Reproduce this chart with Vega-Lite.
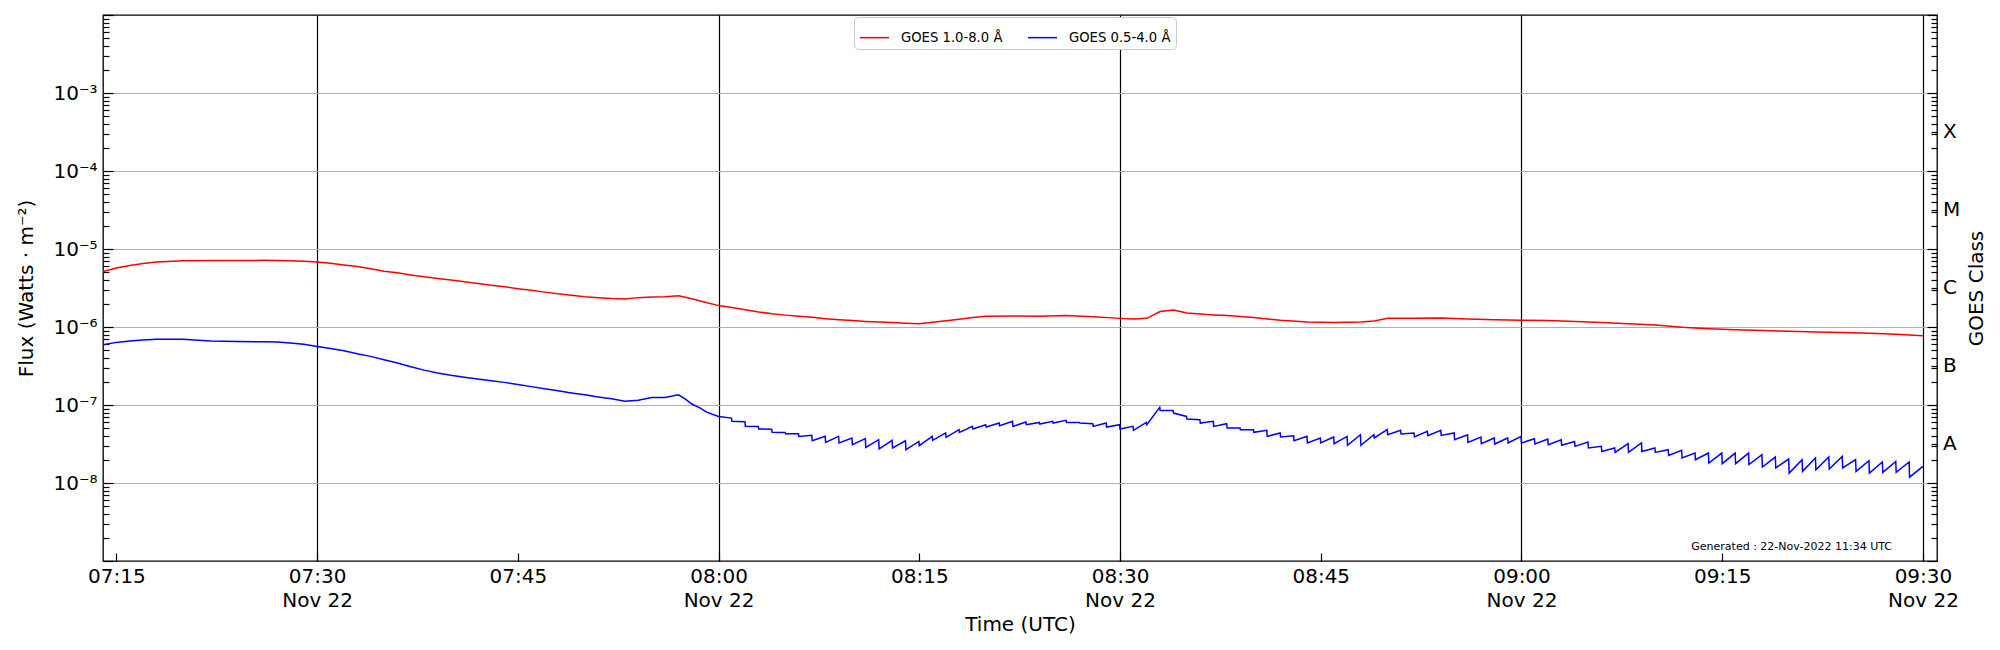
{
  "$schema": "https://vega.github.io/schema/vega-lite/v6.json",
  "width": 1834,
  "height": 546,
  "autosize": {"type": "none"},
  "padding": {"left": 103, "top": 15, "right": 63, "bottom": 89},
  "background": "white",
  "config": {
    "font": "DejaVu Sans",
    "view": {"stroke": "black", "strokeWidth": 1.3},
    "axis": {
      "labelFont": "DejaVu Sans",
      "titleFont": "DejaVu Sans",
      "labelColor": "black",
      "titleColor": "black",
      "titleFontWeight": "normal",
      "labelFontSize": 20,
      "titleFontSize": 20,
      "domain": false,
      "tickColor": "black",
      "tickWidth": 1.2
    }
  },
  "encoding": {
    "x": {
      "field": "t",
      "type": "temporal",
      "scale": {
        "type": "utc",
        "domain": [
          {"year": 2022, "month": 11, "date": 22, "hours": 7, "minutes": 14, "seconds": 0, "utc": true},
          {"year": 2022, "month": 11, "date": 22, "hours": 9, "minutes": 31, "seconds": 3, "utc": true}
        ]
      },
      "axis": {
        "title": "Time (UTC)",
        "values": [
          {"year": 2022, "month": 11, "date": 22, "hours": 7, "minutes": 15, "utc": true},
          {"year": 2022, "month": 11, "date": 22, "hours": 7, "minutes": 30, "utc": true},
          {"year": 2022, "month": 11, "date": 22, "hours": 7, "minutes": 45, "utc": true},
          {"year": 2022, "month": 11, "date": 22, "hours": 8, "minutes": 0, "utc": true},
          {"year": 2022, "month": 11, "date": 22, "hours": 8, "minutes": 15, "utc": true},
          {"year": 2022, "month": 11, "date": 22, "hours": 8, "minutes": 30, "utc": true},
          {"year": 2022, "month": 11, "date": 22, "hours": 8, "minutes": 45, "utc": true},
          {"year": 2022, "month": 11, "date": 22, "hours": 9, "minutes": 0, "utc": true},
          {"year": 2022, "month": 11, "date": 22, "hours": 9, "minutes": 15, "utc": true},
          {"year": 2022, "month": 11, "date": 22, "hours": 9, "minutes": 30, "utc": true}
        ],
        "labelExpr": "utcminutes(datum.value) % 30 == 0 ? [utcFormat(datum.value, '%H:%M'), utcFormat(datum.value, '%b %d')] : utcFormat(datum.value, '%H:%M')",
        "tickSize": -8,
        "grid": true,
        "gridColor": "black",
        "gridWidth": 1.2,
        "gridOpacity": {"condition": {"test": "utcminutes(datum.value) % 30 == 0", "value": 1}, "value": 0},
        "labelPadding": 13,
        "labelLineHeight": 24,
        "labelFlush": false,
        "labelOverlap": false,
        "labelBound": false,
        "titlePadding": 4
      }
    }
  },
  "layer": [
    {
      "data": {
        "values": [
          {"t": "2022-11-22T07:14:00Z", "f": 5.16e-6, "s": "GOES 1.0-8.0 Å"},
          {"t": "2022-11-22T07:15:00Z", "f": 5.7e-6, "s": "GOES 1.0-8.0 Å"},
          {"t": "2022-11-22T07:16:00Z", "f": 6.15e-6, "s": "GOES 1.0-8.0 Å"},
          {"t": "2022-11-22T07:17:00Z", "f": 6.5e-6, "s": "GOES 1.0-8.0 Å"},
          {"t": "2022-11-22T07:18:00Z", "f": 6.8e-6, "s": "GOES 1.0-8.0 Å"},
          {"t": "2022-11-22T07:20:00Z", "f": 7.05e-6, "s": "GOES 1.0-8.0 Å"},
          {"t": "2022-11-22T07:22:00Z", "f": 7.1e-6, "s": "GOES 1.0-8.0 Å"},
          {"t": "2022-11-22T07:24:00Z", "f": 7.12e-6, "s": "GOES 1.0-8.0 Å"},
          {"t": "2022-11-22T07:26:00Z", "f": 7.15e-6, "s": "GOES 1.0-8.0 Å"},
          {"t": "2022-11-22T07:27:00Z", "f": 7.12e-6, "s": "GOES 1.0-8.0 Å"},
          {"t": "2022-11-22T07:28:00Z", "f": 7.05e-6, "s": "GOES 1.0-8.0 Å"},
          {"t": "2022-11-22T07:29:00Z", "f": 6.95e-6, "s": "GOES 1.0-8.0 Å"},
          {"t": "2022-11-22T07:30:00Z", "f": 6.8e-6, "s": "GOES 1.0-8.0 Å"},
          {"t": "2022-11-22T07:31:00Z", "f": 6.55e-6, "s": "GOES 1.0-8.0 Å"},
          {"t": "2022-11-22T07:32:00Z", "f": 6.25e-6, "s": "GOES 1.0-8.0 Å"},
          {"t": "2022-11-22T07:33:00Z", "f": 5.95e-6, "s": "GOES 1.0-8.0 Å"},
          {"t": "2022-11-22T07:34:00Z", "f": 5.6e-6, "s": "GOES 1.0-8.0 Å"},
          {"t": "2022-11-22T07:35:00Z", "f": 5.2e-6, "s": "GOES 1.0-8.0 Å"},
          {"t": "2022-11-22T07:36:00Z", "f": 4.95e-6, "s": "GOES 1.0-8.0 Å"},
          {"t": "2022-11-22T07:37:00Z", "f": 4.65e-6, "s": "GOES 1.0-8.0 Å"},
          {"t": "2022-11-22T07:38:00Z", "f": 4.4e-6, "s": "GOES 1.0-8.0 Å"},
          {"t": "2022-11-22T07:39:00Z", "f": 4.2e-6, "s": "GOES 1.0-8.0 Å"},
          {"t": "2022-11-22T07:40:00Z", "f": 4.0e-6, "s": "GOES 1.0-8.0 Å"},
          {"t": "2022-11-22T07:41:00Z", "f": 3.8e-6, "s": "GOES 1.0-8.0 Å"},
          {"t": "2022-11-22T07:42:00Z", "f": 3.6e-6, "s": "GOES 1.0-8.0 Å"},
          {"t": "2022-11-22T07:43:00Z", "f": 3.42e-6, "s": "GOES 1.0-8.0 Å"},
          {"t": "2022-11-22T07:44:00Z", "f": 3.27e-6, "s": "GOES 1.0-8.0 Å"},
          {"t": "2022-11-22T07:45:00Z", "f": 3.1e-6, "s": "GOES 1.0-8.0 Å"},
          {"t": "2022-11-22T07:46:00Z", "f": 2.95e-6, "s": "GOES 1.0-8.0 Å"},
          {"t": "2022-11-22T07:47:00Z", "f": 2.8e-6, "s": "GOES 1.0-8.0 Å"},
          {"t": "2022-11-22T07:48:00Z", "f": 2.66e-6, "s": "GOES 1.0-8.0 Å"},
          {"t": "2022-11-22T07:49:00Z", "f": 2.55e-6, "s": "GOES 1.0-8.0 Å"},
          {"t": "2022-11-22T07:50:00Z", "f": 2.45e-6, "s": "GOES 1.0-8.0 Å"},
          {"t": "2022-11-22T07:51:00Z", "f": 2.38e-6, "s": "GOES 1.0-8.0 Å"},
          {"t": "2022-11-22T07:52:00Z", "f": 2.32e-6, "s": "GOES 1.0-8.0 Å"},
          {"t": "2022-11-22T07:53:00Z", "f": 2.29e-6, "s": "GOES 1.0-8.0 Å"},
          {"t": "2022-11-22T07:54:00Z", "f": 2.38e-6, "s": "GOES 1.0-8.0 Å"},
          {"t": "2022-11-22T07:55:00Z", "f": 2.42e-6, "s": "GOES 1.0-8.0 Å"},
          {"t": "2022-11-22T07:56:00Z", "f": 2.45e-6, "s": "GOES 1.0-8.0 Å"},
          {"t": "2022-11-22T07:57:00Z", "f": 2.52e-6, "s": "GOES 1.0-8.0 Å"},
          {"t": "2022-11-22T07:58:00Z", "f": 2.3e-6, "s": "GOES 1.0-8.0 Å"},
          {"t": "2022-11-22T07:59:00Z", "f": 2.08e-6, "s": "GOES 1.0-8.0 Å"},
          {"t": "2022-11-22T08:00:00Z", "f": 1.88e-6, "s": "GOES 1.0-8.0 Å"},
          {"t": "2022-11-22T08:01:00Z", "f": 1.78e-6, "s": "GOES 1.0-8.0 Å"},
          {"t": "2022-11-22T08:02:00Z", "f": 1.66e-6, "s": "GOES 1.0-8.0 Å"},
          {"t": "2022-11-22T08:03:00Z", "f": 1.56e-6, "s": "GOES 1.0-8.0 Å"},
          {"t": "2022-11-22T08:04:00Z", "f": 1.48e-6, "s": "GOES 1.0-8.0 Å"},
          {"t": "2022-11-22T08:05:00Z", "f": 1.42e-6, "s": "GOES 1.0-8.0 Å"},
          {"t": "2022-11-22T08:06:00Z", "f": 1.37e-6, "s": "GOES 1.0-8.0 Å"},
          {"t": "2022-11-22T08:07:00Z", "f": 1.33e-6, "s": "GOES 1.0-8.0 Å"},
          {"t": "2022-11-22T08:08:00Z", "f": 1.28e-6, "s": "GOES 1.0-8.0 Å"},
          {"t": "2022-11-22T08:09:00Z", "f": 1.24e-6, "s": "GOES 1.0-8.0 Å"},
          {"t": "2022-11-22T08:10:00Z", "f": 1.21e-6, "s": "GOES 1.0-8.0 Å"},
          {"t": "2022-11-22T08:11:00Z", "f": 1.18e-6, "s": "GOES 1.0-8.0 Å"},
          {"t": "2022-11-22T08:12:00Z", "f": 1.16e-6, "s": "GOES 1.0-8.0 Å"},
          {"t": "2022-11-22T08:13:00Z", "f": 1.14e-6, "s": "GOES 1.0-8.0 Å"},
          {"t": "2022-11-22T08:14:00Z", "f": 1.12e-6, "s": "GOES 1.0-8.0 Å"},
          {"t": "2022-11-22T08:15:00Z", "f": 1.10e-6, "s": "GOES 1.0-8.0 Å"},
          {"t": "2022-11-22T08:16:00Z", "f": 1.15e-6, "s": "GOES 1.0-8.0 Å"},
          {"t": "2022-11-22T08:17:00Z", "f": 1.2e-6, "s": "GOES 1.0-8.0 Å"},
          {"t": "2022-11-22T08:18:00Z", "f": 1.26e-6, "s": "GOES 1.0-8.0 Å"},
          {"t": "2022-11-22T08:19:00Z", "f": 1.32e-6, "s": "GOES 1.0-8.0 Å"},
          {"t": "2022-11-22T08:20:00Z", "f": 1.37e-6, "s": "GOES 1.0-8.0 Å"},
          {"t": "2022-11-22T08:22:00Z", "f": 1.38e-6, "s": "GOES 1.0-8.0 Å"},
          {"t": "2022-11-22T08:24:00Z", "f": 1.37e-6, "s": "GOES 1.0-8.0 Å"},
          {"t": "2022-11-22T08:26:00Z", "f": 1.40e-6, "s": "GOES 1.0-8.0 Å"},
          {"t": "2022-11-22T08:28:00Z", "f": 1.35e-6, "s": "GOES 1.0-8.0 Å"},
          {"t": "2022-11-22T08:30:00Z", "f": 1.29e-6, "s": "GOES 1.0-8.0 Å"},
          {"t": "2022-11-22T08:31:00Z", "f": 1.27e-6, "s": "GOES 1.0-8.0 Å"},
          {"t": "2022-11-22T08:32:00Z", "f": 1.29e-6, "s": "GOES 1.0-8.0 Å"},
          {"t": "2022-11-22T08:33:00Z", "f": 1.58e-6, "s": "GOES 1.0-8.0 Å"},
          {"t": "2022-11-22T08:34:00Z", "f": 1.65e-6, "s": "GOES 1.0-8.0 Å"},
          {"t": "2022-11-22T08:35:00Z", "f": 1.51e-6, "s": "GOES 1.0-8.0 Å"},
          {"t": "2022-11-22T08:36:00Z", "f": 1.47e-6, "s": "GOES 1.0-8.0 Å"},
          {"t": "2022-11-22T08:37:00Z", "f": 1.43e-6, "s": "GOES 1.0-8.0 Å"},
          {"t": "2022-11-22T08:38:00Z", "f": 1.40e-6, "s": "GOES 1.0-8.0 Å"},
          {"t": "2022-11-22T08:40:00Z", "f": 1.32e-6, "s": "GOES 1.0-8.0 Å"},
          {"t": "2022-11-22T08:42:00Z", "f": 1.22e-6, "s": "GOES 1.0-8.0 Å"},
          {"t": "2022-11-22T08:44:00Z", "f": 1.16e-6, "s": "GOES 1.0-8.0 Å"},
          {"t": "2022-11-22T08:46:00Z", "f": 1.14e-6, "s": "GOES 1.0-8.0 Å"},
          {"t": "2022-11-22T08:48:00Z", "f": 1.16e-6, "s": "GOES 1.0-8.0 Å"},
          {"t": "2022-11-22T08:49:00Z", "f": 1.19e-6, "s": "GOES 1.0-8.0 Å"},
          {"t": "2022-11-22T08:50:00Z", "f": 1.29e-6, "s": "GOES 1.0-8.0 Å"},
          {"t": "2022-11-22T08:52:00Z", "f": 1.29e-6, "s": "GOES 1.0-8.0 Å"},
          {"t": "2022-11-22T08:54:00Z", "f": 1.30e-6, "s": "GOES 1.0-8.0 Å"},
          {"t": "2022-11-22T08:56:00Z", "f": 1.27e-6, "s": "GOES 1.0-8.0 Å"},
          {"t": "2022-11-22T08:58:00Z", "f": 1.24e-6, "s": "GOES 1.0-8.0 Å"},
          {"t": "2022-11-22T09:00:00Z", "f": 1.22e-6, "s": "GOES 1.0-8.0 Å"},
          {"t": "2022-11-22T09:02:00Z", "f": 1.21e-6, "s": "GOES 1.0-8.0 Å"},
          {"t": "2022-11-22T09:04:00Z", "f": 1.18e-6, "s": "GOES 1.0-8.0 Å"},
          {"t": "2022-11-22T09:06:00Z", "f": 1.14e-6, "s": "GOES 1.0-8.0 Å"},
          {"t": "2022-11-22T09:08:00Z", "f": 1.10e-6, "s": "GOES 1.0-8.0 Å"},
          {"t": "2022-11-22T09:10:00Z", "f": 1.06e-6, "s": "GOES 1.0-8.0 Å"},
          {"t": "2022-11-22T09:12:00Z", "f": 9.9e-7, "s": "GOES 1.0-8.0 Å"},
          {"t": "2022-11-22T09:14:00Z", "f": 9.5e-7, "s": "GOES 1.0-8.0 Å"},
          {"t": "2022-11-22T09:16:00Z", "f": 9.2e-7, "s": "GOES 1.0-8.0 Å"},
          {"t": "2022-11-22T09:18:00Z", "f": 9.0e-7, "s": "GOES 1.0-8.0 Å"},
          {"t": "2022-11-22T09:20:00Z", "f": 8.8e-7, "s": "GOES 1.0-8.0 Å"},
          {"t": "2022-11-22T09:22:00Z", "f": 8.6e-7, "s": "GOES 1.0-8.0 Å"},
          {"t": "2022-11-22T09:24:00Z", "f": 8.5e-7, "s": "GOES 1.0-8.0 Å"},
          {"t": "2022-11-22T09:26:00Z", "f": 8.3e-7, "s": "GOES 1.0-8.0 Å"},
          {"t": "2022-11-22T09:28:00Z", "f": 8.1e-7, "s": "GOES 1.0-8.0 Å"},
          {"t": "2022-11-22T09:30:00Z", "f": 7.7e-7, "s": "GOES 1.0-8.0 Å"},

          {"t": "2022-11-22T07:14:00Z", "f": 5.93e-7, "s": "GOES 0.5-4.0 Å"},
          {"t": "2022-11-22T07:15:00Z", "f": 6.35e-7, "s": "GOES 0.5-4.0 Å"},
          {"t": "2022-11-22T07:16:00Z", "f": 6.6e-7, "s": "GOES 0.5-4.0 Å"},
          {"t": "2022-11-22T07:17:00Z", "f": 6.8e-7, "s": "GOES 0.5-4.0 Å"},
          {"t": "2022-11-22T07:18:00Z", "f": 6.94e-7, "s": "GOES 0.5-4.0 Å"},
          {"t": "2022-11-22T07:20:00Z", "f": 6.94e-7, "s": "GOES 0.5-4.0 Å"},
          {"t": "2022-11-22T07:22:00Z", "f": 6.6e-7, "s": "GOES 0.5-4.0 Å"},
          {"t": "2022-11-22T07:24:00Z", "f": 6.5e-7, "s": "GOES 0.5-4.0 Å"},
          {"t": "2022-11-22T07:26:00Z", "f": 6.45e-7, "s": "GOES 0.5-4.0 Å"},
          {"t": "2022-11-22T07:27:00Z", "f": 6.4e-7, "s": "GOES 0.5-4.0 Å"},
          {"t": "2022-11-22T07:28:00Z", "f": 6.25e-7, "s": "GOES 0.5-4.0 Å"},
          {"t": "2022-11-22T07:29:00Z", "f": 6.0e-7, "s": "GOES 0.5-4.0 Å"},
          {"t": "2022-11-22T07:30:00Z", "f": 5.64e-7, "s": "GOES 0.5-4.0 Å"},
          {"t": "2022-11-22T07:31:00Z", "f": 5.3e-7, "s": "GOES 0.5-4.0 Å"},
          {"t": "2022-11-22T07:32:00Z", "f": 4.97e-7, "s": "GOES 0.5-4.0 Å"},
          {"t": "2022-11-22T07:33:00Z", "f": 4.55e-7, "s": "GOES 0.5-4.0 Å"},
          {"t": "2022-11-22T07:34:00Z", "f": 4.2e-7, "s": "GOES 0.5-4.0 Å"},
          {"t": "2022-11-22T07:35:00Z", "f": 3.8e-7, "s": "GOES 0.5-4.0 Å"},
          {"t": "2022-11-22T07:36:00Z", "f": 3.45e-7, "s": "GOES 0.5-4.0 Å"},
          {"t": "2022-11-22T07:37:00Z", "f": 3.1e-7, "s": "GOES 0.5-4.0 Å"},
          {"t": "2022-11-22T07:38:00Z", "f": 2.8e-7, "s": "GOES 0.5-4.0 Å"},
          {"t": "2022-11-22T07:39:00Z", "f": 2.58e-7, "s": "GOES 0.5-4.0 Å"},
          {"t": "2022-11-22T07:40:00Z", "f": 2.4e-7, "s": "GOES 0.5-4.0 Å"},
          {"t": "2022-11-22T07:41:00Z", "f": 2.27e-7, "s": "GOES 0.5-4.0 Å"},
          {"t": "2022-11-22T07:42:00Z", "f": 2.15e-7, "s": "GOES 0.5-4.0 Å"},
          {"t": "2022-11-22T07:43:00Z", "f": 2.05e-7, "s": "GOES 0.5-4.0 Å"},
          {"t": "2022-11-22T07:44:00Z", "f": 1.95e-7, "s": "GOES 0.5-4.0 Å"},
          {"t": "2022-11-22T07:45:00Z", "f": 1.83e-7, "s": "GOES 0.5-4.0 Å"},
          {"t": "2022-11-22T07:46:00Z", "f": 1.72e-7, "s": "GOES 0.5-4.0 Å"},
          {"t": "2022-11-22T07:47:00Z", "f": 1.62e-7, "s": "GOES 0.5-4.0 Å"},
          {"t": "2022-11-22T07:48:00Z", "f": 1.52e-7, "s": "GOES 0.5-4.0 Å"},
          {"t": "2022-11-22T07:49:00Z", "f": 1.43e-7, "s": "GOES 0.5-4.0 Å"},
          {"t": "2022-11-22T07:50:00Z", "f": 1.35e-7, "s": "GOES 0.5-4.0 Å"},
          {"t": "2022-11-22T07:51:00Z", "f": 1.27e-7, "s": "GOES 0.5-4.0 Å"},
          {"t": "2022-11-22T07:52:00Z", "f": 1.2e-7, "s": "GOES 0.5-4.0 Å"},
          {"t": "2022-11-22T07:53:00Z", "f": 1.12e-7, "s": "GOES 0.5-4.0 Å"},
          {"t": "2022-11-22T07:54:00Z", "f": 1.15e-7, "s": "GOES 0.5-4.0 Å"},
          {"t": "2022-11-22T07:55:00Z", "f": 1.25e-7, "s": "GOES 0.5-4.0 Å"},
          {"t": "2022-11-22T07:56:00Z", "f": 1.25e-7, "s": "GOES 0.5-4.0 Å"},
          {"t": "2022-11-22T07:57:00Z", "f": 1.35e-7, "s": "GOES 0.5-4.0 Å"},
          {"t": "2022-11-22T07:57:30Z", "f": 1.2e-7, "s": "GOES 0.5-4.0 Å"},
          {"t": "2022-11-22T07:58:00Z", "f": 1.03e-7, "s": "GOES 0.5-4.0 Å"},
          {"t": "2022-11-22T07:58:36Z", "f": 9.2e-8, "s": "GOES 0.5-4.0 Å"},
          {"t": "2022-11-22T07:59:06Z", "f": 8.1e-8, "s": "GOES 0.5-4.0 Å"},
          {"t": "2022-11-22T08:00:00Z", "f": 7.14e-8, "s": "GOES 0.5-4.0 Å"},
          {"t": "2022-11-22T08:00:58Z", "f": 6.8e-8, "s": "GOES 0.5-4.0 Å"},
          {"t": "2022-11-22T08:01:00Z", "f": 6.17e-8, "s": "GOES 0.5-4.0 Å"},
          {"t": "2022-11-22T08:01:58Z", "f": 6.1e-8, "s": "GOES 0.5-4.0 Å"},
          {"t": "2022-11-22T08:02:00Z", "f": 5.32e-8, "s": "GOES 0.5-4.0 Å"},
          {"t": "2022-11-22T08:02:58Z", "f": 5.3e-8, "s": "GOES 0.5-4.0 Å"},
          {"t": "2022-11-22T08:03:00Z", "f": 4.92e-8, "s": "GOES 0.5-4.0 Å"},
          {"t": "2022-11-22T08:03:58Z", "f": 4.9e-8, "s": "GOES 0.5-4.0 Å"},
          {"t": "2022-11-22T08:04:00Z", "f": 4.46e-8, "s": "GOES 0.5-4.0 Å"},
          {"t": "2022-11-22T08:04:58Z", "f": 4.45e-8, "s": "GOES 0.5-4.0 Å"},
          {"t": "2022-11-22T08:05:00Z", "f": 4.28e-8, "s": "GOES 0.5-4.0 Å"},
          {"t": "2022-11-22T08:05:58Z", "f": 4.28e-8, "s": "GOES 0.5-4.0 Å"},
          {"t": "2022-11-22T08:06:00Z", "f": 3.96e-8, "s": "GOES 0.5-4.0 Å"},
          {"t": "2022-11-22T08:06:58Z", "f": 4.08e-8, "s": "GOES 0.5-4.0 Å"},
          {"t": "2022-11-22T08:07:00Z", "f": 3.48e-8, "s": "GOES 0.5-4.0 Å"},
          {"t": "2022-11-22T08:07:58Z", "f": 3.96e-8, "s": "GOES 0.5-4.0 Å"},
          {"t": "2022-11-22T08:08:00Z", "f": 3.32e-8, "s": "GOES 0.5-4.0 Å"},
          {"t": "2022-11-22T08:08:58Z", "f": 3.96e-8, "s": "GOES 0.5-4.0 Å"},
          {"t": "2022-11-22T08:09:00Z", "f": 3.26e-8, "s": "GOES 0.5-4.0 Å"},
          {"t": "2022-11-22T08:09:58Z", "f": 3.78e-8, "s": "GOES 0.5-4.0 Å"},
          {"t": "2022-11-22T08:10:00Z", "f": 3.10e-8, "s": "GOES 0.5-4.0 Å"},
          {"t": "2022-11-22T08:10:58Z", "f": 3.70e-8, "s": "GOES 0.5-4.0 Å"},
          {"t": "2022-11-22T08:11:00Z", "f": 2.86e-8, "s": "GOES 0.5-4.0 Å"},
          {"t": "2022-11-22T08:11:58Z", "f": 3.59e-8, "s": "GOES 0.5-4.0 Å"},
          {"t": "2022-11-22T08:12:00Z", "f": 2.73e-8, "s": "GOES 0.5-4.0 Å"},
          {"t": "2022-11-22T08:12:58Z", "f": 3.52e-8, "s": "GOES 0.5-4.0 Å"},
          {"t": "2022-11-22T08:13:00Z", "f": 2.81e-8, "s": "GOES 0.5-4.0 Å"},
          {"t": "2022-11-22T08:13:58Z", "f": 3.48e-8, "s": "GOES 0.5-4.0 Å"},
          {"t": "2022-11-22T08:14:00Z", "f": 2.67e-8, "s": "GOES 0.5-4.0 Å"},
          {"t": "2022-11-22T08:14:58Z", "f": 3.41e-8, "s": "GOES 0.5-4.0 Å"},
          {"t": "2022-11-22T08:15:00Z", "f": 3.01e-8, "s": "GOES 0.5-4.0 Å"},
          {"t": "2022-11-22T08:15:58Z", "f": 3.96e-8, "s": "GOES 0.5-4.0 Å"},
          {"t": "2022-11-22T08:16:00Z", "f": 3.52e-8, "s": "GOES 0.5-4.0 Å"},
          {"t": "2022-11-22T08:16:58Z", "f": 4.38e-8, "s": "GOES 0.5-4.0 Å"},
          {"t": "2022-11-22T08:17:00Z", "f": 3.85e-8, "s": "GOES 0.5-4.0 Å"},
          {"t": "2022-11-22T08:17:58Z", "f": 4.83e-8, "s": "GOES 0.5-4.0 Å"},
          {"t": "2022-11-22T08:18:00Z", "f": 4.46e-8, "s": "GOES 0.5-4.0 Å"},
          {"t": "2022-11-22T08:18:58Z", "f": 5.32e-8, "s": "GOES 0.5-4.0 Å"},
          {"t": "2022-11-22T08:19:00Z", "f": 4.92e-8, "s": "GOES 0.5-4.0 Å"},
          {"t": "2022-11-22T08:19:58Z", "f": 5.59e-8, "s": "GOES 0.5-4.0 Å"},
          {"t": "2022-11-22T08:20:00Z", "f": 5.22e-8, "s": "GOES 0.5-4.0 Å"},
          {"t": "2022-11-22T08:20:58Z", "f": 5.87e-8, "s": "GOES 0.5-4.0 Å"},
          {"t": "2022-11-22T08:21:00Z", "f": 5.43e-8, "s": "GOES 0.5-4.0 Å"},
          {"t": "2022-11-22T08:21:58Z", "f": 6.17e-8, "s": "GOES 0.5-4.0 Å"},
          {"t": "2022-11-22T08:22:00Z", "f": 5.32e-8, "s": "GOES 0.5-4.0 Å"},
          {"t": "2022-11-22T08:22:58Z", "f": 6.05e-8, "s": "GOES 0.5-4.0 Å"},
          {"t": "2022-11-22T08:23:00Z", "f": 5.59e-8, "s": "GOES 0.5-4.0 Å"},
          {"t": "2022-11-22T08:23:58Z", "f": 5.98e-8, "s": "GOES 0.5-4.0 Å"},
          {"t": "2022-11-22T08:24:00Z", "f": 5.70e-8, "s": "GOES 0.5-4.0 Å"},
          {"t": "2022-11-22T08:24:58Z", "f": 6.17e-8, "s": "GOES 0.5-4.0 Å"},
          {"t": "2022-11-22T08:25:00Z", "f": 5.87e-8, "s": "GOES 0.5-4.0 Å"},
          {"t": "2022-11-22T08:25:58Z", "f": 6.35e-8, "s": "GOES 0.5-4.0 Å"},
          {"t": "2022-11-22T08:26:00Z", "f": 5.98e-8, "s": "GOES 0.5-4.0 Å"},
          {"t": "2022-11-22T08:26:58Z", "f": 5.98e-8, "s": "GOES 0.5-4.0 Å"},
          {"t": "2022-11-22T08:27:00Z", "f": 5.87e-8, "s": "GOES 0.5-4.0 Å"},
          {"t": "2022-11-22T08:27:58Z", "f": 5.75e-8, "s": "GOES 0.5-4.0 Å"},
          {"t": "2022-11-22T08:28:00Z", "f": 5.32e-8, "s": "GOES 0.5-4.0 Å"},
          {"t": "2022-11-22T08:28:58Z", "f": 5.87e-8, "s": "GOES 0.5-4.0 Å"},
          {"t": "2022-11-22T08:29:00Z", "f": 5.22e-8, "s": "GOES 0.5-4.0 Å"},
          {"t": "2022-11-22T08:29:58Z", "f": 5.59e-8, "s": "GOES 0.5-4.0 Å"},
          {"t": "2022-11-22T08:30:00Z", "f": 4.92e-8, "s": "GOES 0.5-4.0 Å"},
          {"t": "2022-11-22T08:30:58Z", "f": 5.32e-8, "s": "GOES 0.5-4.0 Å"},
          {"t": "2022-11-22T08:31:00Z", "f": 4.73e-8, "s": "GOES 0.5-4.0 Å"},
          {"t": "2022-11-22T08:31:58Z", "f": 5.98e-8, "s": "GOES 0.5-4.0 Å"},
          {"t": "2022-11-22T08:32:00Z", "f": 5.6e-8, "s": "GOES 0.5-4.0 Å"},
          {"t": "2022-11-22T08:32:58Z", "f": 9.31e-8, "s": "GOES 0.5-4.0 Å"},
          {"t": "2022-11-22T08:33:00Z", "f": 8.53e-8, "s": "GOES 0.5-4.0 Å"},
          {"t": "2022-11-22T08:33:58Z", "f": 8.53e-8, "s": "GOES 0.5-4.0 Å"},
          {"t": "2022-11-22T08:34:00Z", "f": 7.89e-8, "s": "GOES 0.5-4.0 Å"},
          {"t": "2022-11-22T08:34:58Z", "f": 7.14e-8, "s": "GOES 0.5-4.0 Å"},
          {"t": "2022-11-22T08:35:00Z", "f": 6.61e-8, "s": "GOES 0.5-4.0 Å"},
          {"t": "2022-11-22T08:35:58Z", "f": 6.48e-8, "s": "GOES 0.5-4.0 Å"},
          {"t": "2022-11-22T08:36:00Z", "f": 5.87e-8, "s": "GOES 0.5-4.0 Å"},
          {"t": "2022-11-22T08:36:58Z", "f": 6.17e-8, "s": "GOES 0.5-4.0 Å"},
          {"t": "2022-11-22T08:37:00Z", "f": 5.32e-8, "s": "GOES 0.5-4.0 Å"},
          {"t": "2022-11-22T08:37:58Z", "f": 5.75e-8, "s": "GOES 0.5-4.0 Å"},
          {"t": "2022-11-22T08:38:00Z", "f": 5.07e-8, "s": "GOES 0.5-4.0 Å"},
          {"t": "2022-11-22T08:38:58Z", "f": 5.07e-8, "s": "GOES 0.5-4.0 Å"},
          {"t": "2022-11-22T08:39:00Z", "f": 4.83e-8, "s": "GOES 0.5-4.0 Å"},
          {"t": "2022-11-22T08:39:58Z", "f": 4.83e-8, "s": "GOES 0.5-4.0 Å"},
          {"t": "2022-11-22T08:40:00Z", "f": 4.46e-8, "s": "GOES 0.5-4.0 Å"},
          {"t": "2022-11-22T08:40:58Z", "f": 4.73e-8, "s": "GOES 0.5-4.0 Å"},
          {"t": "2022-11-22T08:41:00Z", "f": 3.96e-8, "s": "GOES 0.5-4.0 Å"},
          {"t": "2022-11-22T08:41:58Z", "f": 4.38e-8, "s": "GOES 0.5-4.0 Å"},
          {"t": "2022-11-22T08:42:00Z", "f": 3.89e-8, "s": "GOES 0.5-4.0 Å"},
          {"t": "2022-11-22T08:42:58Z", "f": 4.04e-8, "s": "GOES 0.5-4.0 Å"},
          {"t": "2022-11-22T08:43:00Z", "f": 3.48e-8, "s": "GOES 0.5-4.0 Å"},
          {"t": "2022-11-22T08:43:58Z", "f": 3.96e-8, "s": "GOES 0.5-4.0 Å"},
          {"t": "2022-11-22T08:44:00Z", "f": 3.26e-8, "s": "GOES 0.5-4.0 Å"},
          {"t": "2022-11-22T08:44:58Z", "f": 3.78e-8, "s": "GOES 0.5-4.0 Å"},
          {"t": "2022-11-22T08:45:00Z", "f": 3.26e-8, "s": "GOES 0.5-4.0 Å"},
          {"t": "2022-11-22T08:45:58Z", "f": 3.89e-8, "s": "GOES 0.5-4.0 Å"},
          {"t": "2022-11-22T08:46:00Z", "f": 3.19e-8, "s": "GOES 0.5-4.0 Å"},
          {"t": "2022-11-22T08:46:58Z", "f": 3.96e-8, "s": "GOES 0.5-4.0 Å"},
          {"t": "2022-11-22T08:47:00Z", "f": 3.04e-8, "s": "GOES 0.5-4.0 Å"},
          {"t": "2022-11-22T08:47:58Z", "f": 4.16e-8, "s": "GOES 0.5-4.0 Å"},
          {"t": "2022-11-22T08:48:00Z", "f": 3.04e-8, "s": "GOES 0.5-4.0 Å"},
          {"t": "2022-11-22T08:48:58Z", "f": 4.16e-8, "s": "GOES 0.5-4.0 Å"},
          {"t": "2022-11-22T08:49:00Z", "f": 3.78e-8, "s": "GOES 0.5-4.0 Å"},
          {"t": "2022-11-22T08:49:58Z", "f": 4.83e-8, "s": "GOES 0.5-4.0 Å"},
          {"t": "2022-11-22T08:50:00Z", "f": 4.16e-8, "s": "GOES 0.5-4.0 Å"},
          {"t": "2022-11-22T08:50:58Z", "f": 4.73e-8, "s": "GOES 0.5-4.0 Å"},
          {"t": "2022-11-22T08:51:00Z", "f": 4.25e-8, "s": "GOES 0.5-4.0 Å"},
          {"t": "2022-11-22T08:51:58Z", "f": 4.38e-8, "s": "GOES 0.5-4.0 Å"},
          {"t": "2022-11-22T08:52:00Z", "f": 3.89e-8, "s": "GOES 0.5-4.0 Å"},
          {"t": "2022-11-22T08:52:58Z", "f": 4.59e-8, "s": "GOES 0.5-4.0 Å"},
          {"t": "2022-11-22T08:53:00Z", "f": 4.04e-8, "s": "GOES 0.5-4.0 Å"},
          {"t": "2022-11-22T08:53:58Z", "f": 4.73e-8, "s": "GOES 0.5-4.0 Å"},
          {"t": "2022-11-22T08:54:00Z", "f": 4.08e-8, "s": "GOES 0.5-4.0 Å"},
          {"t": "2022-11-22T08:54:58Z", "f": 4.38e-8, "s": "GOES 0.5-4.0 Å"},
          {"t": "2022-11-22T08:55:00Z", "f": 3.59e-8, "s": "GOES 0.5-4.0 Å"},
          {"t": "2022-11-22T08:55:58Z", "f": 4.16e-8, "s": "GOES 0.5-4.0 Å"},
          {"t": "2022-11-22T08:56:00Z", "f": 3.32e-8, "s": "GOES 0.5-4.0 Å"},
          {"t": "2022-11-22T08:56:58Z", "f": 3.89e-8, "s": "GOES 0.5-4.0 Å"},
          {"t": "2022-11-22T08:57:00Z", "f": 3.19e-8, "s": "GOES 0.5-4.0 Å"},
          {"t": "2022-11-22T08:57:58Z", "f": 3.78e-8, "s": "GOES 0.5-4.0 Å"},
          {"t": "2022-11-22T08:58:00Z", "f": 3.16e-8, "s": "GOES 0.5-4.0 Å"},
          {"t": "2022-11-22T08:58:58Z", "f": 3.78e-8, "s": "GOES 0.5-4.0 Å"},
          {"t": "2022-11-22T08:59:00Z", "f": 3.26e-8, "s": "GOES 0.5-4.0 Å"},
          {"t": "2022-11-22T08:59:58Z", "f": 3.96e-8, "s": "GOES 0.5-4.0 Å"},
          {"t": "2022-11-22T09:00:00Z", "f": 3.26e-8, "s": "GOES 0.5-4.0 Å"},
          {"t": "2022-11-22T09:00:58Z", "f": 3.70e-8, "s": "GOES 0.5-4.0 Å"},
          {"t": "2022-11-22T09:01:00Z", "f": 3.16e-8, "s": "GOES 0.5-4.0 Å"},
          {"t": "2022-11-22T09:01:58Z", "f": 3.66e-8, "s": "GOES 0.5-4.0 Å"},
          {"t": "2022-11-22T09:02:00Z", "f": 3.10e-8, "s": "GOES 0.5-4.0 Å"},
          {"t": "2022-11-22T09:02:58Z", "f": 3.59e-8, "s": "GOES 0.5-4.0 Å"},
          {"t": "2022-11-22T09:03:00Z", "f": 3.04e-8, "s": "GOES 0.5-4.0 Å"},
          {"t": "2022-11-22T09:03:58Z", "f": 3.41e-8, "s": "GOES 0.5-4.0 Å"},
          {"t": "2022-11-22T09:04:00Z", "f": 2.95e-8, "s": "GOES 0.5-4.0 Å"},
          {"t": "2022-11-22T09:04:58Z", "f": 3.35e-8, "s": "GOES 0.5-4.0 Å"},
          {"t": "2022-11-22T09:05:00Z", "f": 2.81e-8, "s": "GOES 0.5-4.0 Å"},
          {"t": "2022-11-22T09:05:58Z", "f": 2.95e-8, "s": "GOES 0.5-4.0 Å"},
          {"t": "2022-11-22T09:06:00Z", "f": 2.54e-8, "s": "GOES 0.5-4.0 Å"},
          {"t": "2022-11-22T09:06:58Z", "f": 2.81e-8, "s": "GOES 0.5-4.0 Å"},
          {"t": "2022-11-22T09:07:00Z", "f": 2.47e-8, "s": "GOES 0.5-4.0 Å"},
          {"t": "2022-11-22T09:07:58Z", "f": 3.19e-8, "s": "GOES 0.5-4.0 Å"},
          {"t": "2022-11-22T09:08:00Z", "f": 2.47e-8, "s": "GOES 0.5-4.0 Å"},
          {"t": "2022-11-22T09:08:58Z", "f": 3.26e-8, "s": "GOES 0.5-4.0 Å"},
          {"t": "2022-11-22T09:09:00Z", "f": 2.54e-8, "s": "GOES 0.5-4.0 Å"},
          {"t": "2022-11-22T09:09:58Z", "f": 2.81e-8, "s": "GOES 0.5-4.0 Å"},
          {"t": "2022-11-22T09:10:00Z", "f": 2.47e-8, "s": "GOES 0.5-4.0 Å"},
          {"t": "2022-11-22T09:10:58Z", "f": 2.67e-8, "s": "GOES 0.5-4.0 Å"},
          {"t": "2022-11-22T09:11:00Z", "f": 2.26e-8, "s": "GOES 0.5-4.0 Å"},
          {"t": "2022-11-22T09:11:58Z", "f": 2.62e-8, "s": "GOES 0.5-4.0 Å"},
          {"t": "2022-11-22T09:12:00Z", "f": 2.09e-8, "s": "GOES 0.5-4.0 Å"},
          {"t": "2022-11-22T09:12:58Z", "f": 2.42e-8, "s": "GOES 0.5-4.0 Å"},
          {"t": "2022-11-22T09:13:00Z", "f": 1.99e-8, "s": "GOES 0.5-4.0 Å"},
          {"t": "2022-11-22T09:13:58Z", "f": 2.42e-8, "s": "GOES 0.5-4.0 Å"},
          {"t": "2022-11-22T09:14:00Z", "f": 1.80e-8, "s": "GOES 0.5-4.0 Å"},
          {"t": "2022-11-22T09:14:58Z", "f": 2.42e-8, "s": "GOES 0.5-4.0 Å"},
          {"t": "2022-11-22T09:15:00Z", "f": 1.77e-8, "s": "GOES 0.5-4.0 Å"},
          {"t": "2022-11-22T09:15:58Z", "f": 2.42e-8, "s": "GOES 0.5-4.0 Å"},
          {"t": "2022-11-22T09:16:00Z", "f": 1.77e-8, "s": "GOES 0.5-4.0 Å"},
          {"t": "2022-11-22T09:16:58Z", "f": 2.42e-8, "s": "GOES 0.5-4.0 Å"},
          {"t": "2022-11-22T09:17:00Z", "f": 1.72e-8, "s": "GOES 0.5-4.0 Å"},
          {"t": "2022-11-22T09:17:58Z", "f": 2.31e-8, "s": "GOES 0.5-4.0 Å"},
          {"t": "2022-11-22T09:18:00Z", "f": 1.60e-8, "s": "GOES 0.5-4.0 Å"},
          {"t": "2022-11-22T09:18:58Z", "f": 2.15e-8, "s": "GOES 0.5-4.0 Å"},
          {"t": "2022-11-22T09:19:00Z", "f": 1.56e-8, "s": "GOES 0.5-4.0 Å"},
          {"t": "2022-11-22T09:19:58Z", "f": 2.03e-8, "s": "GOES 0.5-4.0 Å"},
          {"t": "2022-11-22T09:20:00Z", "f": 1.34e-8, "s": "GOES 0.5-4.0 Å"},
          {"t": "2022-11-22T09:20:58Z", "f": 1.99e-8, "s": "GOES 0.5-4.0 Å"},
          {"t": "2022-11-22T09:21:00Z", "f": 1.41e-8, "s": "GOES 0.5-4.0 Å"},
          {"t": "2022-11-22T09:21:58Z", "f": 2.09e-8, "s": "GOES 0.5-4.0 Å"},
          {"t": "2022-11-22T09:22:00Z", "f": 1.48e-8, "s": "GOES 0.5-4.0 Å"},
          {"t": "2022-11-22T09:22:58Z", "f": 2.15e-8, "s": "GOES 0.5-4.0 Å"},
          {"t": "2022-11-22T09:23:00Z", "f": 1.51e-8, "s": "GOES 0.5-4.0 Å"},
          {"t": "2022-11-22T09:23:58Z", "f": 2.19e-8, "s": "GOES 0.5-4.0 Å"},
          {"t": "2022-11-22T09:24:00Z", "f": 1.56e-8, "s": "GOES 0.5-4.0 Å"},
          {"t": "2022-11-22T09:24:58Z", "f": 1.99e-8, "s": "GOES 0.5-4.0 Å"},
          {"t": "2022-11-22T09:25:00Z", "f": 1.41e-8, "s": "GOES 0.5-4.0 Å"},
          {"t": "2022-11-22T09:25:58Z", "f": 1.93e-8, "s": "GOES 0.5-4.0 Å"},
          {"t": "2022-11-22T09:26:00Z", "f": 1.34e-8, "s": "GOES 0.5-4.0 Å"},
          {"t": "2022-11-22T09:26:58Z", "f": 1.86e-8, "s": "GOES 0.5-4.0 Å"},
          {"t": "2022-11-22T09:27:00Z", "f": 1.37e-8, "s": "GOES 0.5-4.0 Å"},
          {"t": "2022-11-22T09:27:58Z", "f": 1.89e-8, "s": "GOES 0.5-4.0 Å"},
          {"t": "2022-11-22T09:28:00Z", "f": 1.37e-8, "s": "GOES 0.5-4.0 Å"},
          {"t": "2022-11-22T09:28:58Z", "f": 1.86e-8, "s": "GOES 0.5-4.0 Å"},
          {"t": "2022-11-22T09:29:00Z", "f": 1.19e-8, "s": "GOES 0.5-4.0 Å"},
          {"t": "2022-11-22T09:30:00Z", "f": 1.63e-8, "s": "GOES 0.5-4.0 Å"}
        ]
      },
      "mark": {"type": "line", "strokeWidth": 1.5, "clip": true},
      "encoding": {
        "y": {
          "field": "f",
          "type": "quantitative",
          "scale": {"type": "log", "domain": [1e-9, 1e-2], "nice": false},
          "axis": {
            "orient": "left",
            "title": "Flux (Watts · m⁻²)",
            "values": [1e-9, 2e-9, 3e-9, 4e-9, 5e-9, 6e-9, 7e-9, 8e-9, 9e-9,
                       1e-8, 2e-8, 3e-8, 4e-8, 5e-8, 6e-8, 7e-8, 8e-8, 9e-8,
                       1e-7, 2e-7, 3e-7, 4e-7, 5e-7, 6e-7, 7e-7, 8e-7, 9e-7,
                       1e-6, 2e-6, 3e-6, 4e-6, 5e-6, 6e-6, 7e-6, 8e-6, 9e-6,
                       1e-5, 2e-5, 3e-5, 4e-5, 5e-5, 6e-5, 7e-5, 8e-5, 9e-5,
                       1e-4, 2e-4, 3e-4, 4e-4, 5e-4, 6e-4, 7e-4, 8e-4, 9e-4,
                       1e-3, 2e-3, 3e-3, 4e-3, 5e-3, 6e-3, 7e-3, 8e-3, 9e-3, 1e-2],
            "labelExpr": "abs(log(datum.value)/LN10 - round(log(datum.value)/LN10)) < 0.001 && datum.value > 2e-9 && datum.value < 5e-3 ? '10⁻' + ['⁰','¹','²','³','⁴','⁵','⁶','⁷','⁸','⁹'][-round(log(datum.value)/LN10)] : ''",
            "tickSize": {"condition": {"test": "abs(log(datum.value)/LN10 - round(log(datum.value)/LN10)) < 0.001", "value": -10}, "value": -6},
            "grid": true,
            "gridColor": "#b0b0b0",
            "gridWidth": 1.2,
            "gridOpacity": {"condition": {"test": "abs(log(datum.value)/LN10 - round(log(datum.value)/LN10)) < 0.001 && datum.value > 2e-9 && datum.value < 5e-3", "value": 1}, "value": 0},
            "labelPadding": 16,
            "labelOverlap": false,
            "labelFlush": false,
            "labelBound": false,
            "titlePadding": 16
          }
        },
        "color": {
          "field": "s",
          "type": "nominal",
          "scale": {"domain": ["GOES 1.0-8.0 Å", "GOES 0.5-4.0 Å"], "range": ["#ff0000", "#0000ff"]},
          "legend": {
            "title": null,
            "orient": "none",
            "legendX": 751,
            "legendY": 2,
            "direction": "horizontal",
            "symbolType": "stroke",
            "symbolSize": 841,
            "symbolStrokeWidth": 1.5,
            "labelFont": "DejaVu Sans",
            "labelFontSize": 13.2,
            "labelColor": "black",
            "labelOffset": 11,
            "columnPadding": 22,
            "padding": 5,
            "offset": 0,
            "cornerRadius": 4,
            "strokeColor": "#cccccc",
            "fillColor": "white"
          }
        }
      }
    },
    {
      "data": {
        "values": [
          {"t": "2022-11-22T09:27:41Z", "f": 1.52e-9, "note": "Generated : 22-Nov-2022 11:34 UTC"}
        ]
      },
      "mark": {"type": "text", "align": "right", "baseline": "middle", "font": "DejaVu Sans", "fontSize": 11, "color": "black"},
      "encoding": {
        "y": {
          "field": "f",
          "type": "quantitative",
          "scale": {"type": "log", "domain": [1e-9, 1e-2], "nice": false},
          "axis": {
            "orient": "right",
            "title": "GOES Class",
            "titleAngle": 270,
            "values": [1e-9, 2e-9, 3e-9, 4e-9, 5e-9, 6e-9, 7e-9, 8e-9, 9e-9,
                       1e-8, 2e-8, 3e-8, 4e-8, 5e-8, 6e-8, 7e-8, 8e-8, 9e-8,
                       1e-7, 2e-7, 3e-7, 4e-7, 5e-7, 6e-7, 7e-7, 8e-7, 9e-7,
                       1e-6, 2e-6, 3e-6, 4e-6, 5e-6, 6e-6, 7e-6, 8e-6, 9e-6,
                       1e-5, 2e-5, 3e-5, 4e-5, 5e-5, 6e-5, 7e-5, 8e-5, 9e-5,
                       1e-4, 2e-4, 3e-4, 4e-4, 5e-4, 6e-4, 7e-4, 8e-4, 9e-4,
                       1e-3, 2e-3, 3e-3, 4e-3, 5e-3, 6e-3, 7e-3, 8e-3, 9e-3, 1e-2,
                       3.1623e-8, 3.1623e-7, 3.1623e-6, 3.1623e-5, 3.1623e-4],
            "labelExpr": "abs(log(datum.value)/LN10 + 0.5 - round(log(datum.value)/LN10 + 0.5)) < 0.001 ? ['A','B','C','M','X'][round(log(datum.value)/LN10 + 7.5)] : ''",
            "tickSize": {"condition": {"test": "abs(log(datum.value)/LN10 - round(log(datum.value)/LN10)) < 0.001", "value": -10}, "value": -6},
            "grid": false,
            "labelAlign": "left",
            "labelBaseline": "middle",
            "labelPadding": 11.4,
            "labelOverlap": false,
            "labelFlush": false,
            "labelBound": false,
            "titlePadding": 27
          }
        },
        "text": {"field": "note", "type": "nominal"}
      }
    }
  ],
  "resolve": {"scale": {"y": "independent"}, "axis": {"y": "independent"}}
}
